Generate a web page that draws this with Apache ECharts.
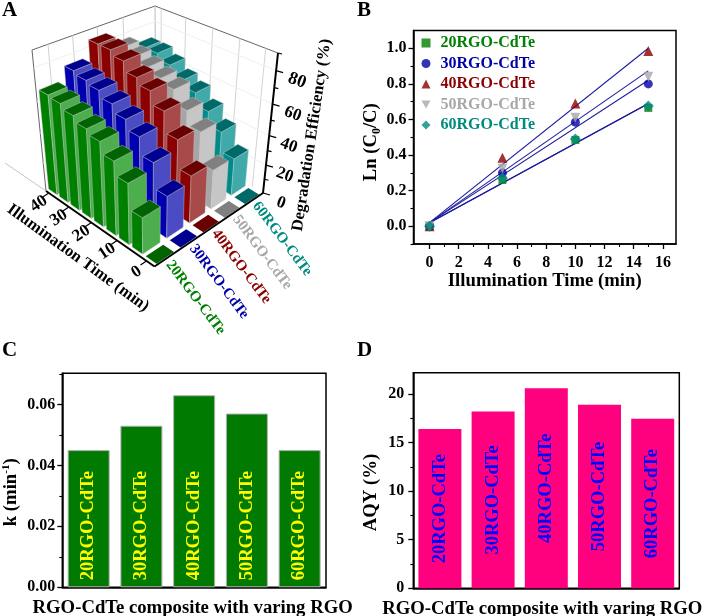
<!DOCTYPE html>
<html><head><meta charset="utf-8">
<style>html,body{margin:0;padding:0;background:#fff;overflow:hidden}#c{width:704px;height:616px}</style>
<script src="https://cdn.jsdelivr.net/npm/echarts@6/dist/echarts.min.js"></script>
</head><body><div id="c"></div>
<script>
// ---------- data ----------
const seriesNames = ['20RGO-CdTe','30RGO-CdTe','40RGO-CdTe','50RGO-CdTe','60RGO-CdTe'];
const times3d = [0,5,10,15,20,25,30,35,40];
const eff20 = [0,24,40,48.5,55.5,58.5,62,65,66];
const eff30 = [0,28,44,55,61,66,70,72,74];
const eff40 = [0,32,50,63,71,75,81,84,84];
const eff50 = [0,27,47,56,65,68,71,74,76];
const eff60 = [0,26,39,48,56,60,66,70,70];
const timeTicks3d = [0,10,20,30,40];
const effMajor = [0,20,40,60,80];
const effMinor = [10,30,50,70,90];

const timesB = [0,5,10,15];
const ln20 = [0,0.26,0.485,0.665];
const ln30 = [0,0.30,0.585,0.80];
const ln40 = [0,0.385,0.69,0.985];
const ln50 = [0,0.325,0.61,0.84];
const ln60 = [0,0.27,0.49,0.675];
const fitEnds = [[0.02,0.688],[0.02,0.82],[0.02,1.0],[0.02,0.873],[0.02,0.69]];

const kValues = [0.045,0.053,0.063,0.057,0.045];
const aqyValues = [16.4,18.2,20.6,18.9,17.45];

// ---------- style ----------
const FF = '"Liberation Serif","Times New Roman",serif';
const green='#008000', blue='#0000A8', red='#8B0000', gray='#A8A8A8', teal='#008B80';
const lineColors=[green,blue,red,gray,teal];
const faces=[
 {top:'#006400',left:'#008000',right:'#4DAE4D'},
 {top:'#000090',left:'#0000B0',right:'#4B4BC3'},
 {top:'#6B0000',left:'#8B0000',right:'#A94A4A'},
 {top:'#808080',left:'#A6A6A6',right:'#C6C6C6'},
 {top:'#006A6A',left:'#008B8B',right:'#40AAAA'}];
const allEff=[eff20,eff30,eff40,eff50,eff60];

// ---------- 3D projection (panel A) ----------
const F00=[154.5,266.5],F10=[46,191],F01=[263,193],F11=[156,128];
const T00=[155,113],T10=[32,50],T01=[278,53],T11=[155,6];
const lerp=(a,b,k)=>[a[0]+(b[0]-a[0])*k,a[1]+(b[1]-a[1])*k];
const warpU=w=>w*1.15/(1+0.15*w);
const tickU=w=>w*1.326/(1+0.326*w);
const warpV=w=>w*1.15/(1+0.15*w);
const warpZ=w=>w/(1+0.15*(1-w));
function proj3(t,s,z){
  const u=warpU((t+2.5)/44), v=warpV(s/5), w=warpZ(z/90);
  const fl=lerp(lerp(F00,F10,u),lerp(F01,F11,u),v);
  const tp=lerp(lerp(T00,T10,u),lerp(T01,T11,u),v);
  return lerp(fl,tp,w);
}
const rawFloor=(u,v)=>lerp(lerp(F00,F10,u),lerp(F01,F11,u),v);
const rawTop=(u,v)=>lerp(lerp(T00,T10,u),lerp(T01,T11,u),v);

const barData=[];
for(let s=4;s>=0;s--) for(let i=times3d.length-1;i>=0;i--) barData.push([times3d[i],s,allEff[s][i]]);

function renderBar(params,api){
  const t=api.value(0),s=api.value(1),z=api.value(2),f=faces[s];
  const t0=t-2.15,t1=t+1.7,s0=s+0.12,s1=s+0.84;
  const p=proj3;
  const a=[t0,s0],b=[t1,s0],c=[t1,s1],d=[t0,s1];
  const edge='rgba(200,200,200,0.7)';
  const kids=[];
  if(z>0){
    kids.push({type:'polygon',shape:{points:[p(a[0],a[1],0),p(b[0],b[1],0),p(b[0],b[1],z),p(a[0],a[1],z)]},style:{fill:f.left,stroke:edge,lineWidth:0.6}});
    kids.push({type:'polygon',shape:{points:[p(a[0],a[1],0),p(d[0],d[1],0),p(d[0],d[1],z),p(a[0],a[1],z)]},style:{fill:f.right,stroke:edge,lineWidth:0.6}});
  }
  kids.push({type:'polygon',shape:{points:[p(a[0],a[1],z),p(b[0],b[1],z),p(c[0],c[1],z),p(d[0],d[1],z)]},style:{fill:f.top,stroke:z>0?edge:'none',lineWidth:0.6}});
  return {type:'group',children:kids};
}
function seg(a,b,stroke,lw){return {type:'line',shape:{x1:a[0],y1:a[1],x2:b[0],y2:b[1]},style:{stroke:stroke,lineWidth:lw}};}
function txt(x,y,text,rotDeg,size,fill,align){
  return {type:'text',x:x,y:y,rotation:rotDeg*Math.PI/180,
    style:{text:text,font:'bold '+size+'px '+FF,fill:fill,align:align||'center',verticalAlign:'middle'}};
}
function renderFrame(){
  const kids=[];
  kids.push(seg(T10,T11,'#666',1),seg(T11,T01,'#666',1),seg(T10,F10,'#666',1));
  kids.push(seg(T11,F11,'#bbb',1),seg(F10,[5,163],'#c4c4c4',1));
  [0.13,0.33,0.53,0.74].forEach(v=>kids.push(seg(rawTop(1,v),rawFloor(1,v),'#d0d0d0',1)));
  [0.95,0.75,0.53,0.31,0.1].forEach(u=>kids.push(seg(rawTop(u,1),rawFloor(u,1),'#d4d4d4',1)));
  [20,40,60,80].forEach(z=>{
    const w=warpZ(z/90);
    kids.push(seg(lerp(F01,T01,w),lerp(F11,T11,w),'#f0f0f0',1));
    kids.push(seg(lerp(F10,T10,w),lerp(F11,T11,w),'#f0f0f0',1));
  });
  return {type:'group',children:kids};
}
function renderAxes(){
  const kids=[];
  kids.push(seg(F10,F00,'#000',2),seg(F00,F01,'#000',2),seg(F01,T01,'#000',2));
  timeTicks3d.forEach(tv=>{
    const p=lerp(F00,F10,tickU((tv+2.5)/44));
    kids.push(seg(p,[p[0]-6,p[1]+4],'#000',1.2));
    kids.push(txt(p[0]-10,p[1]+11,String(tv),34,17,'#000'));
  });
  effMajor.forEach(z=>{
    const r=lerp(F01,T01,warpZ(z/90));
    kids.push(seg(r,[r[0]+7,r[1]+2],'#000',1.2));
    kids.push(txt(r[0]+18+z/80*3,r[1]+10,String(z),-20,z===80?18:17,'#000'));
  });
  effMinor.forEach(z=>{
    const r=lerp(F01,T01,warpZ(z/90));
    kids.push(seg(r,[r[0]+4,r[1]+1],'#000',1.2));
  });
  seriesNames.forEach((n,i)=>{
    const p=lerp(F00,F01,warpV((i+0.5)/5));
    kids.push(txt(p[0]+2,p[1]+4,n,-53,15,lineColors[i],'left'));
  });
  kids.push(txt(78,258,'Illumination Time (min)',-36,16.5,'#000'));
  kids.push(txt(312,135,'Degradation Efficiency (%)',81.5,16.5,'#000'));
  return {type:'group',children:kids};
}

// ---------- axis helpers ----------
const axLine={show:true,onZero:false,lineStyle:{color:'#000',width:1.5}};
function majorAxis(o){
  const base={type:'value',axisLine:axLine,splitLine:{show:false},
    axisTick:{show:true,length:5,inside:false,lineStyle:{color:'#000',width:1.3},customValues:o.major},
    axisLabel:{show:true,margin:o.margin||7,fontFamily:FF,fontWeight:'bold',fontSize:16,color:'#000',customValues:o.major,formatter:o.fmt},
    nameLocation:'middle'};
  return Object.assign(base,o.opt);
}
function minorAxis(o){
  return Object.assign({type:'value',axisLine:{show:false,onZero:false},splitLine:{show:false},axisLabel:{show:false},
    axisTick:{show:true,length:3,lineStyle:{color:'#000',width:1.1},customValues:o.minor}},o.opt);
}
const titleX='RGO-CdTe composite with varing RGO';
const nameStyle={fontFamily:FF,fontWeight:'bold',fontSize:18.7,color:'#000'};
const gridBase={show:true,borderColor:'#000',borderWidth:1.5,backgroundColor:'transparent',outerBoundsMode:'none'};

const option={
  animation:false,
  backgroundColor:'#fff',
  grid:[
    Object.assign({left:413.5,top:30.5,width:262.5,height:213.5},gridBase),
    Object.assign({left:62.3,top:373.3,width:263.7,height:214},gridBase),
    Object.assign({left:413.3,top:372.7,width:266,height:215.6},gridBase)
  ],
  xAxis:[
    majorAxis({major:[0,2,4,6,8,10,12,14,16],fmt:v=>String(v),margin:11,opt:{gridIndex:0,position:'bottom',min:-1.1,max:16.9,name:'Illumination Time (min)',nameGap:27,nameTextStyle:nameStyle}}),
    minorAxis({minor:[1,3,5,7,9,11,13,15],opt:{gridIndex:0,position:'bottom',min:-1.1,max:16.9}}),
    {type:'category',gridIndex:1,data:seriesNames,axisLine:axLine,axisTick:{show:false},axisLabel:{show:false},name:titleX,nameLocation:'middle',nameGap:11,nameTextStyle:Object.assign({},nameStyle,{padding:[0,3,0,0]})},
    {type:'category',gridIndex:2,data:seriesNames,axisLine:axLine,axisTick:{show:false},axisLabel:{show:false},name:titleX,nameLocation:'middle',nameGap:11,nameTextStyle:Object.assign({},nameStyle,{padding:[0,8,0,0]})}
  ],
  yAxis:[
    majorAxis({major:[0,0.2,0.4,0.6,0.8,1],fmt:v=>v.toFixed(1),opt:{gridIndex:0,position:'left',min:-0.1,max:1.1,
      name:'{a|Ln (C}{s|0}{a|/C)}',nameGap:27,nameTextStyle:{padding:[0,10,0,0],rich:{a:{fontFamily:FF,fontWeight:'bold',fontSize:18.7,color:'#000',lineHeight:22},s:{fontFamily:FF,fontWeight:'bold',fontSize:12,color:'#000',lineHeight:22,verticalAlign:'bottom'}}}}}),
    minorAxis({minor:[-0.1,0.1,0.3,0.5,0.7,0.9],opt:{gridIndex:0,position:'left',min:-0.1,max:1.1}}),
    majorAxis({major:[0,0.02,0.04,0.06],fmt:v=>v.toFixed(2),opt:{gridIndex:1,position:'left',min:0,max:0.0702,
      name:'{a|k (min}{s|-1}{a|)}',nameGap:40,nameTextStyle:{padding:[0,24,0,0],rich:{a:{fontFamily:FF,fontWeight:'bold',fontSize:18.7,color:'#000',lineHeight:22},s:{fontFamily:FF,fontWeight:'bold',fontSize:11,color:'#000',lineHeight:22,verticalAlign:'top'}}}}}),
    minorAxis({minor:[0.01,0.03,0.05,0.07],opt:{gridIndex:1,position:'left',min:0,max:0.0702}}),
    majorAxis({major:[0,5,10,15,20],fmt:v=>String(v),margin:9,opt:{gridIndex:2,position:'left',min:0,max:22.2,name:'AQY (%)',nameGap:33,nameTextStyle:Object.assign({},nameStyle,{padding:[0,24,0,0]})}}),
    minorAxis({minor:[2.5,7.5,12.5,17.5],opt:{gridIndex:2,position:'left',min:0,max:22.2}})
  ],
  legend:{
    left:421.5,top:35,padding:0,orient:'vertical',itemWidth:9,itemHeight:9,itemGap:4.5,selectedMode:false,
    textStyle:{fontFamily:FF,fontWeight:'bold',fontSize:16,padding:[0,0,0,5]},
    data:seriesNames.map((n,i)=>({name:n,textStyle:{color:lineColors[i]}}))
  },
  graphic:[
    ['A',2,11],['B',357,11],['C',2,351],['D',357,351]
  ].map(a=>({type:'text',x:a[1],y:a[2],style:{text:a[0],font:'bold 21px '+FF,fill:'#000',verticalAlign:'middle'}})),
  series:[]
};

option.series.push({type:'custom',coordinateSystem:'none',silent:true,data:[[0]],renderItem:renderFrame,z:1});
option.series.push({type:'custom',coordinateSystem:'none',silent:true,data:barData,renderItem:renderBar,z:2});
option.series.push({type:'custom',coordinateSystem:'none',silent:true,data:[[0]],renderItem:renderAxes,z:3});

const allLn=[ln20,ln30,ln40,ln50,ln60];
fitEnds.forEach((e,i)=>option.series.push({type:'line',name:'fit'+i,xAxisIndex:0,yAxisIndex:0,symbol:'none',silent:true,
  data:[[timesB[0],e[0]],[timesB[3],e[1]]],lineStyle:{color:'#1C1C9C',width:1.1},z:3}));
const syms=['rect','circle','triangle','path://M0,0L10,0L5,9Z','diamond'];
const sizes=[8,9,10,10,11];
seriesNames.forEach((n,i)=>option.series.push({type:'scatter',name:n,xAxisIndex:0,yAxisIndex:0,symbol:syms[i],symbolSize:sizes[i],
  itemStyle:{color:lineColors[i]},data:timesB.map((t,j)=>[t,allLn[i][j]]),z:4}));

option.series.push({type:'bar',xAxisIndex:2,yAxisIndex:2,data:kValues,barWidth:42,
  itemStyle:{color:'#007A00',borderColor:'#B0B0B0',borderWidth:1},
  label:{show:true,position:'insideBottom',rotate:90,align:'left',verticalAlign:'middle',distance:7,
    formatter:p=>seriesNames[p.dataIndex],fontFamily:FF,fontWeight:'bold',fontSize:18.5,color:'#FFFF00'}});
option.series.push({type:'bar',xAxisIndex:3,yAxisIndex:4,data:aqyValues,barWidth:43,
  itemStyle:{color:'#FF007F'},
  label:{show:true,position:'inside',rotate:90,align:'center',verticalAlign:'middle',
    formatter:p=>seriesNames[p.dataIndex],fontFamily:FF,fontWeight:'bold',fontSize:18.5,color:'#0000FF'}});

echarts.init(document.getElementById('c'),null,{renderer:'canvas'}).setOption(option);
</script></body></html>
